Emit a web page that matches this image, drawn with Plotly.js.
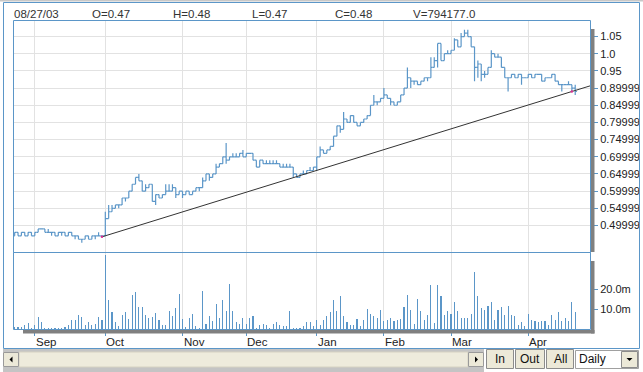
<!DOCTYPE html>
<html>
<head>
<meta charset="utf-8">
<script src="https://cdn.plot.ly/plotly-3.0.1.min.js"></script>
<style>html,body{margin:0;padding:0;background:#fff;}#chart{width:643px;height:372px;}</style>
</head>
<body>
<div id="chart"></div>
<script>
// ---------- DATA ----------
const headerDate = '08/27/03';
const openP = [.47,.48,.47,.48,.47,.48,.47,.48,.49,.49,.48,.48,.48,.47,.48,.48,.47,.48,.47,.47,.46,.46,.47,.46,.47,.47,.47,
 .47,.52,.54,.55,.56,.56,.58,.58,.60,.62,.64,.63,.60,.61,.62,.57,.59,.58,.59,.60,.60,.61,.59,.60,.59,.60,.59,.60,.61,.61,.63,.65,.64,.65,.67,.68,.70,.69,.70,.70,.70,.71,
 .70,.71,.71,.69,.67,.69,.68,.68,.68,.68,.68,.67,.67,.67,.67,.65,.64,.65,.65,.66,.66,
 .67,.70,.72,.71,.72,.73,.76,.79,.78,.81,.80,.82,.80,.79,.80,.81,.82,.85,.86,.86,
 .87,.88,.87,.86,.85,.86,.88,.90,.93,.92,.92,.91,.92,.93,.93,.96,.98,1.03,.98,
 1.00,1.00,1.01,1.04,1.02,1.05,1.06,1.05,1.02,.96,.97,.94,.94,.96,1.00,.99,.99,.96,.93,.93,.94,.93,.94,
 .93,.93,.94,.93,.94,.94,.92,.93,.93,.94,.92,.91,.91,.91,.91,.90];
const highP = [.48,.48,.48,.48,.48,.48,.48,.49,.49,.49,.49,.48,.48,.48,.48,.48,.48,.48,.47,.47,.46,.47,.47,.47,.47,.48,.47,
 .54,.56,.56,.56,.56,.58,.58,.60,.62,.64,.65,.63,.62,.62,.62,.59,.59,.59,.62,.62,.62,.61,.60,.60,.60,.60,.60,.61,.61,.64,.65,.65,.65,.68,.68,.70,.74,.70,.71,.71,.71,.72,
 .71,.71,.71,.69,.69,.69,.69,.69,.69,.69,.68,.68,.68,.68,.67,.65,.65,.66,.66,.67,.67,
 .70,.73,.72,.72,.73,.76,.79,.79,.83,.81,.82,.82,.80,.80,.81,.82,.85,.88,.86,.87,
 .90,.88,.87,.86,.86,.88,.90,.96,.93,.92,.92,.92,.93,.93,.99,.99,1.03,1.03,1.00,
 1.01,1.01,1.045,1.04,1.06,1.07,1.07,1.05,1.02,.98,.97,.95,.96,1.01,1.00,1.00,.99,.96,.93,.94,.94,.94,.94,
 .93,.94,.94,.94,.94,.94,.93,.93,.94,.94,.92,.91,.91,.92,.91,.91];
const lowP = [.47,.47,.47,.47,.47,.47,.47,.48,.49,.48,.48,.47,.47,.47,.47,.47,.47,.47,.46,.46,.45,.46,.46,.46,.46,.47,.47,
 .47,.52,.54,.55,.55,.56,.57,.58,.60,.62,.63,.60,.60,.61,.57,.56,.58,.58,.59,.60,.60,.58,.59,.58,.59,.59,.59,.60,.60,.61,.63,.63,.64,.65,.67,.68,.68,.69,.70,.70,.70,.70,
 .70,.71,.69,.67,.67,.68,.68,.68,.68,.68,.67,.67,.67,.67,.64,.64,.64,.65,.65,.66,.66,
 .66,.70,.71,.71,.72,.73,.76,.77,.78,.80,.80,.80,.79,.79,.80,.81,.82,.85,.85,.86,
 .87,.87,.85,.85,.85,.86,.88,.90,.90,.91,.91,.91,.92,.92,.93,.96,.96,.98,.98,
 1.00,1.00,1.01,1.02,1.02,1.05,1.05,1.02,.92,.93,.92,.93,.94,.96,.99,.99,.96,.93,.89,.93,.93,.93,.91,
 .93,.93,.93,.93,.94,.92,.92,.93,.93,.92,.91,.89,.91,.91,.89,.88];
const closeP = [.48,.47,.48,.47,.48,.47,.48,.49,.49,.48,.48,.48,.47,.48,.48,.47,.48,.47,.47,.46,.46,.47,.46,.47,.47,.47,.47,
 .52,.54,.55,.56,.56,.58,.58,.60,.62,.64,.63,.60,.61,.62,.57,.59,.58,.59,.60,.60,.61,.59,.60,.59,.60,.59,.60,.61,.61,.63,.65,.64,.65,.67,.68,.70,.69,.70,.70,.70,.71,.70,
 .71,.71,.69,.67,.69,.68,.68,.68,.68,.68,.67,.67,.67,.67,.65,.64,.65,.65,.66,.66,.67,
 .70,.72,.71,.72,.73,.76,.79,.78,.81,.80,.82,.80,.79,.80,.81,.82,.85,.86,.86,.87,
 .88,.87,.86,.85,.86,.88,.90,.93,.92,.92,.91,.92,.93,.93,.96,.98,1.03,.98,1.00,
 1.00,1.01,1.04,1.02,1.05,1.06,1.05,1.02,.96,.97,.94,.94,.96,1.00,.99,.99,.96,.93,.93,.94,.93,.94,.93,
 .93,.94,.93,.94,.94,.92,.93,.93,.94,.92,.91,.91,.91,.91,.90,.89];
// volume in millions
const volM = [0.794177,0.8,0.8,2.0,3.0,0.6,1.8,6.0,3.5,0.7,0.7,0.7,0.7,0.7,0.7,1.2,2.2,4.3,4.3,6.8,5.8,1.8,3.3,2.2,2.5,5.8,4.5,
 36.8,
 14.7,8.3,3.3,1.7,7.2,8.3,5.2,17.2,18.3,10.8,10.8,7.2,5.5,5.8,7.8,4.7,2.2,2.2,9.2,6.3,10.5,17.7,
 5.0,1.0,5.5,7.7,1.7,0.7,18.8,2.7,6.7,3.8,12.7,5.5,14.7,9.2,22.7,8.8,3.7,2.7,5.5,
 2.7,5.5,6.7,0.7,2.2,2.7,2.0,0.7,2.7,3.7,2.0,1.3,1.7,9.2,0.7,0.7,0.7,1.3,3.7,3.7,
 1.5,4.7,2.2,4.3,6.3,8.3,14.3,8.8,16.7,6.7,3.3,2.2,2.2,5.2,1.7,4.7,10.2,7.7,6.3,5.5,
 9.7,3.8,4.3,5.5,3.8,4.3,5.0,11.0,17.2,9.7,2.7,15.2,8.8,4.3,7.2,22.2,3.0,22.2,16.7,7.2,
 9.2,7.7,13.3,9.2,5.5,5.5,5.5,7.5,28.7,16.7,10.5,9.7,11.3,13.5,4.7,9.7,11.0,7.2,11.3,7.2,6.3,2.2,3.3,
 1.7,7.7,4.7,3.8,3.3,3.8,3.8,2.2,7.2,4.3,8.3,3.8,5.5,3.8,13.7,8.7];
const monthLabels = ['Sep','Oct','Nov','Dec','Jan','Feb','Mar','Apr'];
const monthStartIdx = [6,27,50,69,90,110,130,153];
const priceTickVals = [1.05,1.0,0.95,0.9,0.85,0.8,0.75,0.7,0.65,0.6,0.55,0.5];
const priceTickText = ['1.05','1.0','0.95','0.89999','0.84999','0.79999','0.74999','0.69999','0.64999','0.59999','0.54999','0.49999'];
const volTickVals = [10,20];
const volTickText = ['10.0m','20.0m'];
const trendIdx = [26,166];
const trendPrice = [0.467,0.89];
const buttonLabels = ['In','Out','All'];
const periodLabel = 'Daily';

// ---------- STYLE / LAYOUT ----------
const W = 643, H = 372, ML = 13, MR = 52, MT = 20, MB = 43;
const PW = W - ML - MR, PH = H - MT - MB;
const X = px => (px - ML) / PW;
const Y = py => (H - MB - py) / PH;
const blue = '#5b96c8';
const grid = '#e2e2e2';
const FONT = '"Liberation Sans", Arial, sans-serif';
const split = Y(252.5);
const xRange = [-0.5, 171.7];

const idx = closeP.map((_, i) => i);

const slope = (trendPrice[1] - trendPrice[0]) / (trendIdx[1] - trendIdx[0]);
const trendX = [trendIdx[0], xRange[1]];
const trendY = [trendPrice[0], trendPrice[0] + slope * (xRange[1] - trendIdx[0])];

const traces = [
  {type:'ohlc', x: idx, open: openP, high: highP, low: lowP, close: closeP,
   xaxis:'x', yaxis:'y', tickwidth: 0.5, hoverinfo:'skip',
   increasing:{line:{color:blue, width:1.2}}, decreasing:{line:{color:blue, width:1.2}}},
  {type:'scatter', mode:'lines', x: trendX, y: trendY, xaxis:'x', yaxis:'y',
   line:{color:'#333333', width:1}, hoverinfo:'skip'},
  {type:'scatter', mode:'markers', x: trendIdx, y: trendPrice, xaxis:'x', yaxis:'y',
   marker:{color:'#d8308f', size:2.5}, hoverinfo:'skip'},
  {type:'bar', x: idx, y: volM, xaxis:'x', yaxis:'y2', width: 0.33,
   marker:{color:blue, line:{width:0}}, hoverinfo:'skip'}
];

function rect(x0, y0, x1, y1, o) {
  return Object.assign({type:'rect', xref:'paper', yref:'paper',
    x0: X(x0), x1: X(x1), y0: Y(y1), y1: Y(y0), line:{width:0}}, o || {});
}
function path(pts, fill) {
  const d = pts.map((p, k) => (k ? 'L' : 'M') + X(p[0]) + ',' + Y(p[1])).join(' ') + ' Z';
  return {type:'path', xref:'paper', yref:'paper', path: d, fillcolor: fill, line:{width:0}};
}

const shapes = [
  rect(0, 0, 643, 1.5, {fillcolor:'#c8c8c8'}),
  rect(3.5, 2.5, 639.5, 348.5, {line:{color:blue, width:1}, fillcolor:'rgba(0,0,0,0)'}),
  rect(591, 29, 594.5, 252, {fillcolor:'#808080'}),
  rect(591, 261, 594.5, 333.5, {fillcolor:'#808080'}),
  rect(23, 330, 594.5, 333.5, {fillcolor:'#808080'}),
  {type:'rect', xref:'paper', yref:'paper', x0:X(13.5), x1:X(590.5), y0:split, y1:Y(20.5), line:{color:blue, width:1}},
  {type:'rect', xref:'paper', yref:'paper', x0:X(13.5), x1:X(590.5), y0:Y(329.5), y1:split, line:{color:blue, width:1}},
  rect(3, 349, 484, 352, {fillcolor:'#c4c4c4'}),
  rect(3, 367, 484, 372, {fillcolor:'#c4c4c4'}),
  rect(19, 352, 468, 367, {fillcolor:'#eeebdc', line:{color:'#d6d2c2', width:1}}),
  rect(3.5, 352.5, 18.5, 366.5, {fillcolor:'#ece9d8', line:{color:'#9a9a9a', width:1}}),
  rect(468.5, 352.5, 483.5, 366.5, {fillcolor:'#ece9d8', line:{color:'#9a9a9a', width:1}}),
  path([[12.5,356.5],[12.5,362.5],[9.5,359.5]], '#000'),
  path([[475,356.5],[475,362.5],[478,359.5]], '#000'),
  rect(486.5, 349.5, 513.5, 368.5, {fillcolor:'#ece9d8', line:{color:'#8c8c8c', width:1}}),
  rect(515.5, 349.5, 544.5, 368.5, {fillcolor:'#ece9d8', line:{color:'#8c8c8c', width:1}}),
  rect(546.5, 349.5, 573.5, 368.5, {fillcolor:'#ece9d8', line:{color:'#8c8c8c', width:1}}),
  rect(575.5, 350.5, 638.5, 368.5, {fillcolor:'#ffffff', line:{color:'#a0a0a0', width:1}}),
  rect(621.5, 351.5, 637.5, 367.5, {fillcolor:'#ece9d8', line:{color:'#8c8c8c', width:1}}),
  path([[626.5,358],[632.5,358],[629.5,361]], '#000')
];

const annotations = [];
const hdr = [
  [12, headerDate],
  [90, 'O=' + openP[0].toFixed(2)],
  [171, 'H=' + highP[0].toFixed(2)],
  [250, 'L=' + lowP[0].toFixed(2)],
  [333, 'C=' + closeP[0].toFixed(2)],
  [411, 'V=' + (volM[0] * 1e6).toFixed(1)]
];
hdr.forEach(h => annotations.push({xref:'paper', yref:'paper', x:X(h[0]), y:Y(13.5),
  xanchor:'left', yanchor:'middle', text:h[1], showarrow:false,
  font:{family:FONT, size:11.5, color:'#333'}}));
monthLabels.forEach((m, k) => annotations.push({xref:'x', yref:'paper', x: monthStartIdx[k], y:Y(342),
  xanchor:'left', yanchor:'middle', xshift:-1, text:m, showarrow:false,
  font:{family:FONT, size:11.5, color:'#222'}}));
const btnCenters = [500, 530, 560];
buttonLabels.forEach((b, k) => annotations.push({xref:'paper', yref:'paper', x:X(btnCenters[k]), y:Y(359),
  xanchor:'center', yanchor:'middle', text:b, showarrow:false,
  font:{family:FONT, size:12, color:'#111'}}));
annotations.push({xref:'paper', yref:'paper', x:X(577), y:Y(359.5), xanchor:'left', yanchor:'middle',
  text:periodLabel, showarrow:false, font:{family:FONT, size:12, color:'#111'}});

const layout = {
  width: W, height: H,
  margin: {l:ML, r:MR, t:MT, b:MB, pad:0},
  paper_bgcolor:'#ffffff', plot_bgcolor:'rgba(0,0,0,0)',
  showlegend:false, dragmode:false, bargap:0,
  xaxis: {type:'linear', range:xRange, anchor:'y2', tickvals:monthStartIdx, ticktext:monthLabels,
    showticklabels:false, ticks:'outside', ticklen:6, tickcolor:blue, tickwidth:1,
    showgrid:true, gridcolor:grid, gridwidth:1, zeroline:false, showline:false,
    rangeslider:{visible:false}, fixedrange:true},
  yaxis: {domain:[split, 1], range:[0.4214, 1.0981], side:'right', anchor:'x',
    tickvals:priceTickVals, ticktext:priceTickText, ticks:'outside', ticklen:6, tickcolor:blue,
    showgrid:true, gridcolor:grid, gridwidth:1, zeroline:false, showline:false,
    tickfont:{family:FONT, size:11, color:'#222'}, fixedrange:true},
  yaxis2: {domain:[0, split], range:[0, 38.25], side:'right', anchor:'x',
    tickvals:volTickVals, ticktext:volTickText, ticks:'outside', ticklen:6, tickcolor:blue,
    showgrid:false, zeroline:false, showline:false,
    tickfont:{family:FONT, size:11, color:'#222'}, fixedrange:true},
  shapes: shapes,
  annotations: annotations
};

Plotly.newPlot('chart', traces, layout, {staticPlot:true, displayModeBar:false});
</script>
</body>
</html>
